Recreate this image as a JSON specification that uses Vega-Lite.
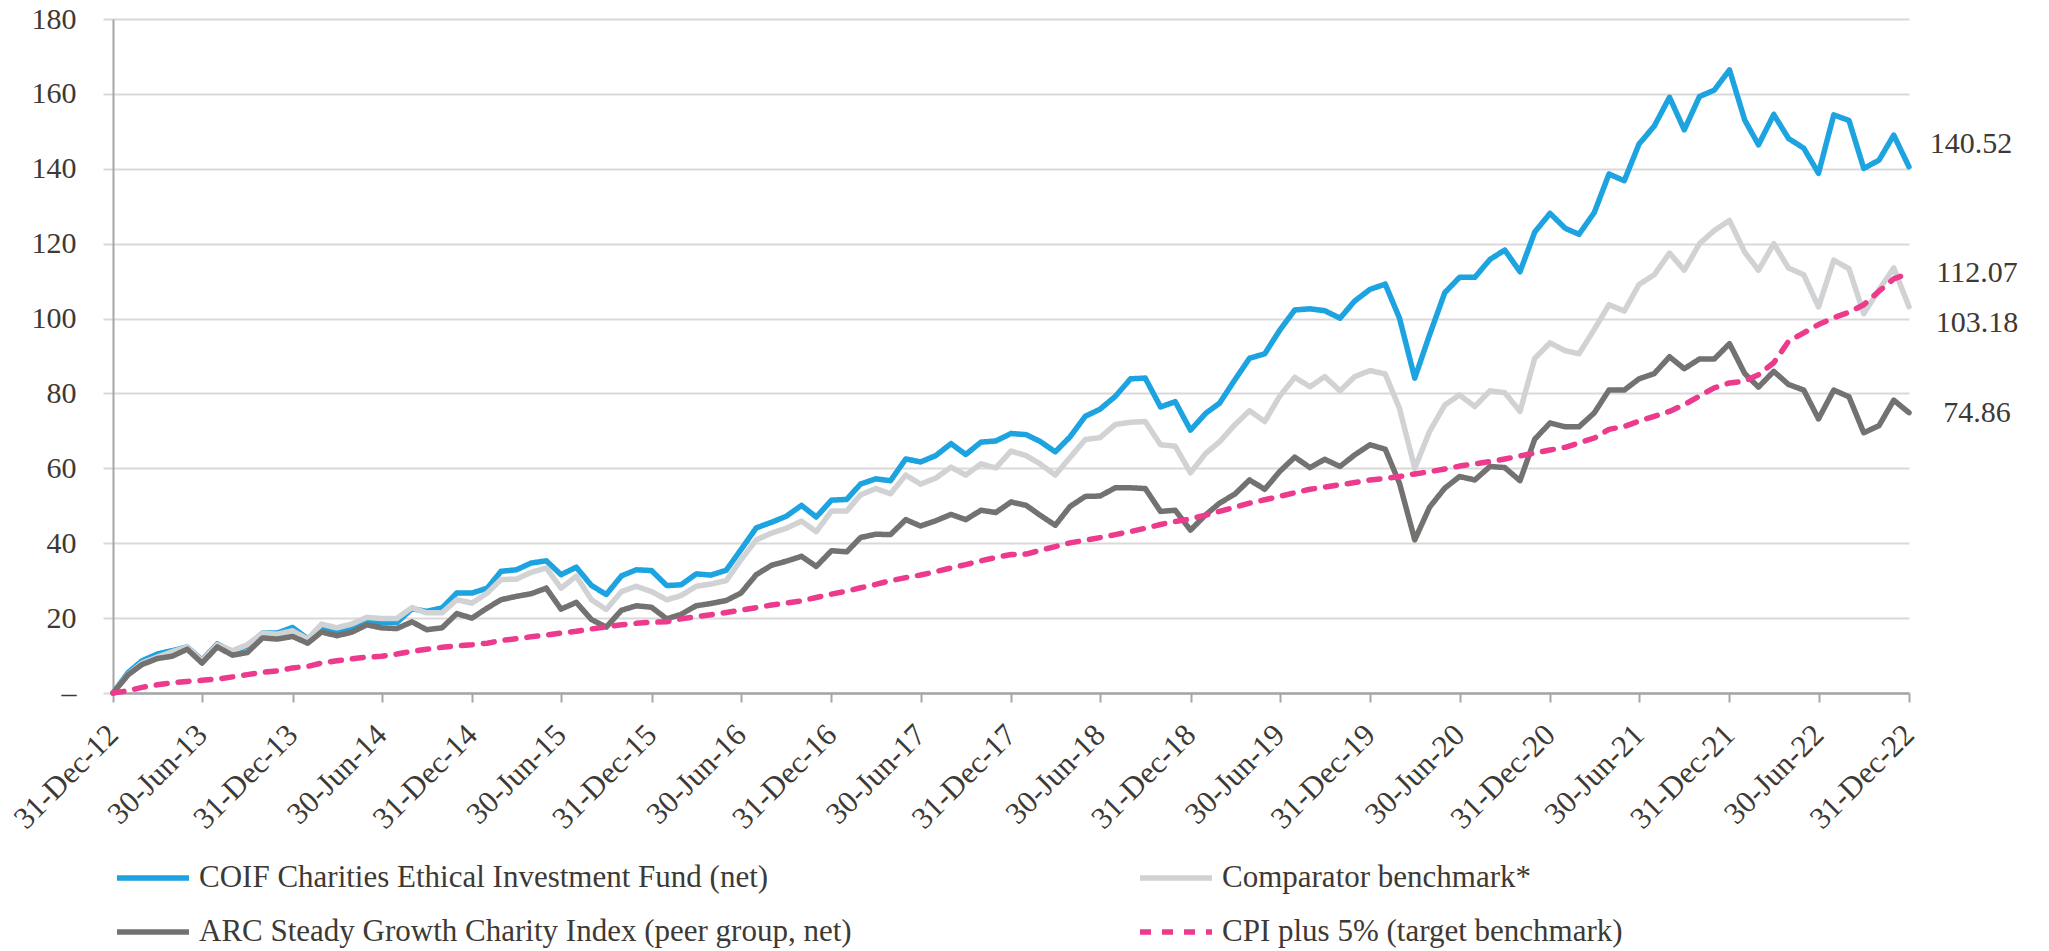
{
  "$schema": "https://vega.github.io/schema/vega-lite/v6.json",
  "autosize": {"type": "none"},
  "width": 1796,
  "height": 674,
  "padding": {"left": 113, "top": 19, "right": 140, "bottom": 258},
  "background": "white",
  "config": {
    "view": {"stroke": null},
    "font": "Liberation Serif"
  },
  "data": {
    "values": [
      {"d": "2012-12-31", "coif": 0, "comp": 0, "arc": 0, "cpi": 0},
      {"d": "2013-01-31", "coif": 5.5, "comp": 5.0, "arc": 4.9, "cpi": 0.6},
      {"d": "2013-02-28", "coif": 8.6, "comp": 8.0, "arc": 7.6, "cpi": 1.5},
      {"d": "2013-03-31", "coif": 10.4, "comp": 9.6, "arc": 9.2, "cpi": 2.2},
      {"d": "2013-04-30", "coif": 11.3, "comp": 11.0, "arc": 9.8, "cpi": 2.7},
      {"d": "2013-05-31", "coif": 12.3, "comp": 12.3, "arc": 11.7, "cpi": 3.1},
      {"d": "2013-06-30", "coif": 8.8, "comp": 8.6, "arc": 8.0, "cpi": 3.4},
      {"d": "2013-07-31", "coif": 13.1, "comp": 12.9, "arc": 12.3, "cpi": 3.7},
      {"d": "2013-08-31", "coif": 11.0, "comp": 11.3, "arc": 10.1, "cpi": 4.3},
      {"d": "2013-09-30", "coif": 12.5, "comp": 12.9, "arc": 10.8, "cpi": 4.9},
      {"d": "2013-10-31", "coif": 16.0, "comp": 16.0, "arc": 14.7, "cpi": 5.5},
      {"d": "2013-11-30", "coif": 16.0, "comp": 15.7, "arc": 14.4, "cpi": 5.9},
      {"d": "2013-12-31", "coif": 17.5, "comp": 16.6, "arc": 15.1, "cpi": 6.7},
      {"d": "2014-01-31", "coif": 14.5, "comp": 14.4, "arc": 13.3, "cpi": 7.1},
      {"d": "2014-02-28", "coif": 17.4, "comp": 18.4, "arc": 16.3, "cpi": 8.0},
      {"d": "2014-03-31", "coif": 16.3, "comp": 17.4, "arc": 15.3, "cpi": 8.6},
      {"d": "2014-04-30", "coif": 17.4, "comp": 18.4, "arc": 16.2, "cpi": 9.1},
      {"d": "2014-05-31", "coif": 19.0, "comp": 20.2, "arc": 18.2, "cpi": 9.6},
      {"d": "2014-06-30", "coif": 18.8, "comp": 19.9, "arc": 17.4, "cpi": 9.8},
      {"d": "2014-07-31", "coif": 18.8, "comp": 19.9, "arc": 17.2, "cpi": 10.4},
      {"d": "2014-08-31", "coif": 22.5, "comp": 22.8, "arc": 19.0, "cpi": 11.1},
      {"d": "2014-09-30", "coif": 21.8, "comp": 21.4, "arc": 16.9, "cpi": 11.7},
      {"d": "2014-10-31", "coif": 22.7, "comp": 21.4, "arc": 17.4, "cpi": 12.2},
      {"d": "2014-11-30", "coif": 26.7, "comp": 24.9, "arc": 21.2, "cpi": 12.6},
      {"d": "2014-12-31", "coif": 26.7, "comp": 24.0, "arc": 20.0, "cpi": 12.9},
      {"d": "2015-01-31", "coif": 28.0, "comp": 26.7, "arc": 22.7, "cpi": 13.3},
      {"d": "2015-02-28", "coif": 32.5, "comp": 30.3, "arc": 24.9, "cpi": 14.0},
      {"d": "2015-03-31", "coif": 32.9, "comp": 30.4, "arc": 25.8, "cpi": 14.5},
      {"d": "2015-04-30", "coif": 34.7, "comp": 32.2, "arc": 26.5, "cpi": 15.0},
      {"d": "2015-05-31", "coif": 35.3, "comp": 33.4, "arc": 28.0, "cpi": 15.5},
      {"d": "2015-06-30", "coif": 31.6, "comp": 28.0, "arc": 22.4, "cpi": 16.0},
      {"d": "2015-07-31", "coif": 33.6, "comp": 31.2, "arc": 24.2, "cpi": 16.5},
      {"d": "2015-08-31", "coif": 28.7, "comp": 24.9, "arc": 19.6, "cpi": 17.1},
      {"d": "2015-09-30", "coif": 26.3, "comp": 22.3, "arc": 17.6, "cpi": 17.7},
      {"d": "2015-10-31", "coif": 31.3, "comp": 27.1, "arc": 22.1, "cpi": 18.2},
      {"d": "2015-11-30", "coif": 32.9, "comp": 28.5, "arc": 23.3, "cpi": 18.6},
      {"d": "2015-12-31", "coif": 32.7, "comp": 27.1, "arc": 22.9, "cpi": 18.9},
      {"d": "2016-01-31", "coif": 28.7, "comp": 24.9, "arc": 19.8, "cpi": 19.0},
      {"d": "2016-02-29", "coif": 28.9, "comp": 26.0, "arc": 21.0, "cpi": 19.8},
      {"d": "2016-03-31", "coif": 31.8, "comp": 28.5, "arc": 23.3, "cpi": 20.4},
      {"d": "2016-04-30", "coif": 31.5, "comp": 29.1, "arc": 23.9, "cpi": 20.9},
      {"d": "2016-05-31", "coif": 32.8, "comp": 30.0, "arc": 24.7, "cpi": 21.5},
      {"d": "2016-06-30", "coif": 38.3, "comp": 35.6, "arc": 26.7, "cpi": 22.1},
      {"d": "2016-07-31", "coif": 44.1, "comp": 40.9, "arc": 31.6, "cpi": 22.8},
      {"d": "2016-08-31", "coif": 45.6, "comp": 42.7, "arc": 34.1, "cpi": 23.5},
      {"d": "2016-09-30", "coif": 47.2, "comp": 44.0, "arc": 35.2, "cpi": 24.0},
      {"d": "2016-10-31", "coif": 50.1, "comp": 45.9, "arc": 36.5, "cpi": 24.6},
      {"d": "2016-11-30", "coif": 47.0, "comp": 43.1, "arc": 33.8, "cpi": 25.5},
      {"d": "2016-12-31", "coif": 51.5, "comp": 48.6, "arc": 38.0, "cpi": 26.4},
      {"d": "2017-01-31", "coif": 51.7, "comp": 48.6, "arc": 37.7, "cpi": 27.2},
      {"d": "2017-02-28", "coif": 55.8, "comp": 52.9, "arc": 41.5, "cpi": 28.1},
      {"d": "2017-03-31", "coif": 57.2, "comp": 54.6, "arc": 42.4, "cpi": 29.0},
      {"d": "2017-04-30", "coif": 56.7, "comp": 53.2, "arc": 42.3, "cpi": 30.0},
      {"d": "2017-05-31", "coif": 62.5, "comp": 58.2, "arc": 46.3, "cpi": 30.8},
      {"d": "2017-06-30", "coif": 61.7, "comp": 55.8, "arc": 44.6, "cpi": 31.5},
      {"d": "2017-07-31", "coif": 63.4, "comp": 57.4, "arc": 46.0, "cpi": 32.4},
      {"d": "2017-08-31", "coif": 66.6, "comp": 60.3, "arc": 47.7, "cpi": 33.4},
      {"d": "2017-09-30", "coif": 63.7, "comp": 58.2, "arc": 46.3, "cpi": 34.3},
      {"d": "2017-10-31", "coif": 67.0, "comp": 61.2, "arc": 48.8, "cpi": 35.3},
      {"d": "2017-11-30", "coif": 67.3, "comp": 60.1, "arc": 48.2, "cpi": 36.2},
      {"d": "2017-12-31", "coif": 69.3, "comp": 64.6, "arc": 51.0, "cpi": 37.0},
      {"d": "2018-01-31", "coif": 69.0, "comp": 63.4, "arc": 50.1, "cpi": 37.1},
      {"d": "2018-02-28", "coif": 67.2, "comp": 61.2, "arc": 47.5, "cpi": 38.1},
      {"d": "2018-03-31", "coif": 64.4, "comp": 58.2, "arc": 44.8, "cpi": 39.1},
      {"d": "2018-04-30", "coif": 68.4, "comp": 62.9, "arc": 49.8, "cpi": 40.1},
      {"d": "2018-05-31", "coif": 73.9, "comp": 67.7, "arc": 52.5, "cpi": 40.8},
      {"d": "2018-06-30", "coif": 75.8, "comp": 68.2, "arc": 52.6, "cpi": 41.5},
      {"d": "2018-07-31", "coif": 79.2, "comp": 71.7, "arc": 54.8, "cpi": 42.3},
      {"d": "2018-08-31", "coif": 83.9, "comp": 72.3, "arc": 54.8, "cpi": 43.1},
      {"d": "2018-09-30", "coif": 84.1, "comp": 72.5, "arc": 54.6, "cpi": 44.0},
      {"d": "2018-10-31", "coif": 76.4, "comp": 66.3, "arc": 48.5, "cpi": 45.0},
      {"d": "2018-11-30", "coif": 77.8, "comp": 65.9, "arc": 48.8, "cpi": 45.8},
      {"d": "2018-12-31", "coif": 70.2, "comp": 58.8, "arc": 43.5, "cpi": 46.5},
      {"d": "2019-01-31", "coif": 74.7, "comp": 64.0, "arc": 47.6, "cpi": 47.5},
      {"d": "2019-02-28", "coif": 77.4, "comp": 67.1, "arc": 50.7, "cpi": 48.5},
      {"d": "2019-03-31", "coif": 83.6, "comp": 71.6, "arc": 53.1, "cpi": 49.6},
      {"d": "2019-04-30", "coif": 89.4, "comp": 75.4, "arc": 56.9, "cpi": 50.7},
      {"d": "2019-05-31", "coif": 90.6, "comp": 72.5, "arc": 54.4, "cpi": 51.6},
      {"d": "2019-06-30", "coif": 96.8, "comp": 79.2, "arc": 59.1, "cpi": 52.5},
      {"d": "2019-07-31", "coif": 102.3, "comp": 84.3, "arc": 63.0, "cpi": 53.5},
      {"d": "2019-08-31", "coif": 102.6, "comp": 81.8, "arc": 60.2, "cpi": 54.4},
      {"d": "2019-09-30", "coif": 102.1, "comp": 84.5, "arc": 62.4, "cpi": 55.0},
      {"d": "2019-10-31", "coif": 100.1, "comp": 80.7, "arc": 60.5, "cpi": 55.6},
      {"d": "2019-11-30", "coif": 104.7, "comp": 84.5, "arc": 63.6, "cpi": 56.2},
      {"d": "2019-12-31", "coif": 107.8, "comp": 86.1, "arc": 66.3, "cpi": 56.9},
      {"d": "2020-01-31", "coif": 109.2, "comp": 85.2, "arc": 65.1, "cpi": 57.3},
      {"d": "2020-02-29", "coif": 100.1, "comp": 76.0, "arc": 56.0, "cpi": 57.8},
      {"d": "2020-03-31", "coif": 84.1, "comp": 60.0, "arc": 40.9, "cpi": 58.5},
      {"d": "2020-04-30", "coif": 95.6, "comp": 69.8, "arc": 49.6, "cpi": 59.1},
      {"d": "2020-05-31", "coif": 106.9, "comp": 76.9, "arc": 54.7, "cpi": 59.8},
      {"d": "2020-06-30", "coif": 111.0, "comp": 79.6, "arc": 57.8, "cpi": 60.6},
      {"d": "2020-07-31", "coif": 111.0, "comp": 76.5, "arc": 56.9, "cpi": 61.2},
      {"d": "2020-08-31", "coif": 115.8, "comp": 80.7, "arc": 60.5, "cpi": 61.8},
      {"d": "2020-09-30", "coif": 118.3, "comp": 80.2, "arc": 60.2, "cpi": 62.5},
      {"d": "2020-10-31", "coif": 112.5, "comp": 75.2, "arc": 56.7, "cpi": 63.3},
      {"d": "2020-11-30", "coif": 123.1, "comp": 89.4, "arc": 67.8, "cpi": 64.1},
      {"d": "2020-12-31", "coif": 128.1, "comp": 93.5, "arc": 72.1, "cpi": 64.9},
      {"d": "2021-01-31", "coif": 124.1, "comp": 91.4, "arc": 71.1, "cpi": 65.6},
      {"d": "2021-02-28", "coif": 122.5, "comp": 90.6, "arc": 71.1, "cpi": 66.8},
      {"d": "2021-03-31", "coif": 128.3, "comp": 97.1, "arc": 74.8, "cpi": 68.1},
      {"d": "2021-04-30", "coif": 138.6, "comp": 103.7, "arc": 80.9, "cpi": 70.4},
      {"d": "2021-05-31", "coif": 136.8, "comp": 102.0, "arc": 80.9, "cpi": 71.2},
      {"d": "2021-06-30", "coif": 146.6, "comp": 109.1, "arc": 83.9, "cpi": 72.6},
      {"d": "2021-07-31", "coif": 151.4, "comp": 111.7, "arc": 85.3, "cpi": 73.9},
      {"d": "2021-08-31", "coif": 159.1, "comp": 117.5, "arc": 89.8, "cpi": 75.2},
      {"d": "2021-09-30", "coif": 150.4, "comp": 112.9, "arc": 86.6, "cpi": 77.0},
      {"d": "2021-10-31", "coif": 159.3, "comp": 120.0, "arc": 89.2, "cpi": 79.3},
      {"d": "2021-11-30", "coif": 161.0, "comp": 123.5, "arc": 89.2, "cpi": 81.5},
      {"d": "2021-12-31", "coif": 166.4, "comp": 126.2, "arc": 93.3, "cpi": 82.8},
      {"d": "2022-01-31", "coif": 153.0, "comp": 117.7, "arc": 85.3, "cpi": 83.3},
      {"d": "2022-02-28", "coif": 146.4, "comp": 112.9, "arc": 81.7, "cpi": 85.0},
      {"d": "2022-03-31", "coif": 154.5, "comp": 120.0, "arc": 85.9, "cpi": 88.2},
      {"d": "2022-04-30", "coif": 148.1, "comp": 113.5, "arc": 82.4, "cpi": 93.9},
      {"d": "2022-05-31", "coif": 145.5, "comp": 111.7, "arc": 80.9, "cpi": 96.2},
      {"d": "2022-06-30", "coif": 138.8, "comp": 103.1, "arc": 73.2, "cpi": 98.4},
      {"d": "2022-07-31", "coif": 154.4, "comp": 115.6, "arc": 80.9, "cpi": 100.2},
      {"d": "2022-08-31", "coif": 152.9, "comp": 113.3, "arc": 79.1, "cpi": 101.7},
      {"d": "2022-09-30", "coif": 140.1, "comp": 101.3, "arc": 69.5, "cpi": 103.7},
      {"d": "2022-10-31", "coif": 142.3, "comp": 107.7, "arc": 71.4, "cpi": 107.3},
      {"d": "2022-11-30", "coif": 149.0, "comp": 113.5, "arc": 78.2, "cpi": 110.6},
      {"d": "2022-12-31", "coif": 140.52, "comp": 103.18, "arc": 74.86, "cpi": 112.07}
    ]
  },
  "transform": [
    {"fold": ["coif", "comp", "arc", "cpi"], "as": ["key", "value"]}
  ],
  "encoding": {
    "x": {
      "field": "d",
      "type": "temporal",
      "scale": {
        "type": "utc",
        "nice": false,
        "domain": [
          {"year": 2012, "month": 12, "date": 31, "utc": true},
          {"year": 2022, "month": 12, "date": 31, "utc": true}
        ]
      },
      "axis": {
        "title": null,
        "grid": false,
        "values": [
          {"year": 2012, "month": 12, "date": 31, "utc": true},
          {"year": 2013, "month": 6, "date": 30, "utc": true},
          {"year": 2013, "month": 12, "date": 31, "utc": true},
          {"year": 2014, "month": 6, "date": 30, "utc": true},
          {"year": 2014, "month": 12, "date": 31, "utc": true},
          {"year": 2015, "month": 6, "date": 30, "utc": true},
          {"year": 2015, "month": 12, "date": 31, "utc": true},
          {"year": 2016, "month": 6, "date": 30, "utc": true},
          {"year": 2016, "month": 12, "date": 31, "utc": true},
          {"year": 2017, "month": 6, "date": 30, "utc": true},
          {"year": 2017, "month": 12, "date": 31, "utc": true},
          {"year": 2018, "month": 6, "date": 30, "utc": true},
          {"year": 2018, "month": 12, "date": 31, "utc": true},
          {"year": 2019, "month": 6, "date": 30, "utc": true},
          {"year": 2019, "month": 12, "date": 31, "utc": true},
          {"year": 2020, "month": 6, "date": 30, "utc": true},
          {"year": 2020, "month": 12, "date": 31, "utc": true},
          {"year": 2021, "month": 6, "date": 30, "utc": true},
          {"year": 2021, "month": 12, "date": 31, "utc": true},
          {"year": 2022, "month": 6, "date": 30, "utc": true},
          {"year": 2022, "month": 12, "date": 31, "utc": true}
        ],
        "format": "%d-%b-%y",
        "labelAngle": -45,
        "labelAlign": "right",
        "labelBaseline": "middle",
        "labelFont": "Liberation Serif",
        "labelFontSize": 31,
        "labelColor": "#3d3935",
        "labelPadding": 28,
        "labelOverlap": false,
        "labelFlush": false,
        "tickSize": 9,
        "tickWidth": 2,
        "tickColor": "#a6a6a6",
        "domainColor": "#a6a6a6",
        "domainWidth": 2.5
      }
    },
    "y": {
      "field": "value",
      "type": "quantitative",
      "scale": {"domain": [0, 180], "nice": false},
      "axis": {
        "title": null,
        "values": [0, 20, 40, 60, 80, 100, 120, 140, 160, 180],
        "labelExpr": "datum.value == 0 ? '–' : datum.label",
        "labelFont": "Liberation Serif",
        "labelFontSize": 30,
        "labelColor": "#3d3935",
        "labelPadding": 27,
        "tickSize": 10,
        "tickWidth": 2,
        "tickColor": "#d9d9d9",
        "gridColor": "#d9d9d9",
        "gridWidth": 2,
        "domainColor": "#a6a6a6",
        "domainWidth": 2
      }
    }
  },
  "layer": [
    {
      "mark": {"type": "line", "strokeWidth": 5.5, "strokeCap": "round", "strokeJoin": "round"},
      "encoding": {
        "color": {
          "field": "key",
          "type": "nominal",
          "scale": {
            "domain": ["coif", "arc", "comp", "cpi"],
            "range": ["#1ca3e0", "#737270", "#d1d2d4", "#ec3a8c"]
          },
          "legend": {
            "title": null,
            "orient": "none",
            "legendX": 1,
            "legendY": 820,
            "columns": 2,
            "columnPadding": 277,
            "rowPadding": -36,
            "padding": 0,
            "symbolType": "stroke",
            "symbolSize": 5184,
            "symbolStrokeWidth": 5.5,
            "labelFont": "Liberation Serif",
            "labelFontSize": 31,
            "labelColor": "#3d3935",
            "labelOffset": 7,
            "labelLimit": 0,
            "labelExpr": "{'coif': 'COIF Charities Ethical Investment Fund (net)', 'comp': 'Comparator benchmark*', 'arc': 'ARC Steady Growth Charity Index (peer group, net)', 'cpi': 'CPI plus 5% (target benchmark)'}[datum.label]"
          }
        },
        "strokeDash": {
          "field": "key",
          "type": "nominal",
          "scale": {
            "domain": ["coif", "arc", "comp", "cpi"],
            "range": [[1, 0], [1, 0], [1, 0], [11, 11]]
          },
          "legend": {
            "title": null,
            "orient": "none",
            "legendX": 1,
            "legendY": 820,
            "columns": 2,
            "columnPadding": 277,
            "rowPadding": -36,
            "padding": 0,
            "symbolType": "stroke",
            "symbolSize": 5184,
            "symbolStrokeWidth": 5.5,
            "labelFont": "Liberation Serif",
            "labelFontSize": 31,
            "labelColor": "#3d3935",
            "labelOffset": 7,
            "labelLimit": 0,
            "labelExpr": "{'coif': 'COIF Charities Ethical Investment Fund (net)', 'comp': 'Comparator benchmark*', 'arc': 'ARC Steady Growth Charity Index (peer group, net)', 'cpi': 'CPI plus 5% (target benchmark)'}[datum.label]"
          }
        }
      }
    },
    {
      "transform": [
        {"filter": "datum.key == 'coif' && utcyear(datum.d) == 2022 && utcmonth(datum.d) == 11"}
      ],
      "mark": {"type": "text", "font": "Liberation Serif", "fontSize": 30, "color": "#3d3935", "align": "center", "baseline": "middle", "dx": 62, "dy": -23},
      "encoding": {
        "text": {"field": "value", "type": "quantitative", "format": ".2f"}
      }
    },
    {
      "transform": [
        {"filter": "datum.key == 'comp' && utcyear(datum.d) == 2022 && utcmonth(datum.d) == 11"}
      ],
      "mark": {"type": "text", "font": "Liberation Serif", "fontSize": 30, "color": "#3d3935", "align": "center", "baseline": "middle", "dx": 68, "dy": 16},
      "encoding": {
        "text": {"field": "value", "type": "quantitative", "format": ".2f"}
      }
    },
    {
      "transform": [
        {"filter": "(datum.key == 'arc' || datum.key == 'cpi') && utcyear(datum.d) == 2022 && utcmonth(datum.d) == 11"}
      ],
      "mark": {"type": "text", "font": "Liberation Serif", "fontSize": 30, "color": "#3d3935", "align": "center", "baseline": "middle", "dx": 68, "dy": 0},
      "encoding": {
        "text": {"field": "value", "type": "quantitative", "format": ".2f"}
      }
    }
  ]
}
